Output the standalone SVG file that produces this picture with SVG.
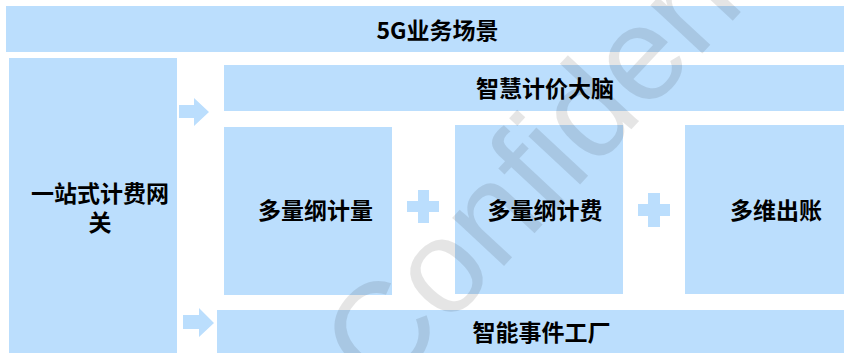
<svg xmlns="http://www.w3.org/2000/svg" width="844" height="353" viewBox="0 0 844 353">
<style>
.box{fill:#bbdefd}
.lbl{font-family:"Noto Sans CJK SC","Noto Sans",sans-serif;font-weight:bold;font-size:23px;fill:#000;text-anchor:middle}
.conn{fill:#bbdefd}
.wm{font-family:"Liberation Sans",Arial,sans-serif;font-size:134px;fill:#000;fill-opacity:0.1}
</style>
<rect width="844" height="353" fill="#fff"/>
<g id="scene">
<rect class="box" x="6" y="6" width="838" height="46"/>
<text class="lbl" x="437.5" y="38.7">5G业务场景</text>
</g>
<g id="gateway">
<rect class="box" x="9" y="58" width="168" height="295"/>
<text class="lbl" x="100" y="201.7">一站式计费网<tspan x="100" dy="29">关</tspan></text>
</g>
<g id="brain">
<rect class="box" x="224" y="65" width="620" height="46"/>
<text class="lbl" x="545" y="96.7">智慧计价大脑</text>
</g>
<g id="metering">
<rect class="box" x="224" y="127" width="168" height="168"/>
<text class="lbl" x="315.5" y="218.7">多量纲计量</text>
</g>
<g id="charging">
<rect class="box" x="455" y="125" width="168" height="169"/>
<text class="lbl" x="545" y="218.7">多量纲计费</text>
</g>
<g id="billing">
<rect class="box" x="685" y="125" width="159" height="169"/>
<text class="lbl" x="776" y="218.7">多维出账</text>
</g>
<g id="factory">
<rect class="box" x="217" y="310" width="627" height="43"/>
<text class="lbl" x="541.5" y="341.2">智能事件工厂</text>
</g>
<g id="connectors">
<polygon class="conn" points="179,105 194,105 194,98 209,112 194,126 194,118 179,118"/>
<polygon class="conn" points="183,315 199,315 199,308 214,323 199,337 199,329 183,329"/>
<path class="conn" d="M418,190h11v11h10v11h-10v11h-11v-11h-11v-11h11z"/>
<path class="conn" d="M648,193h12v11h10v12h-10v11h-12v-11h-10v-12h10z"/>
</g>
<text class="wm" transform="translate(381,398) rotate(-47)">Confidential</text>
</svg>
